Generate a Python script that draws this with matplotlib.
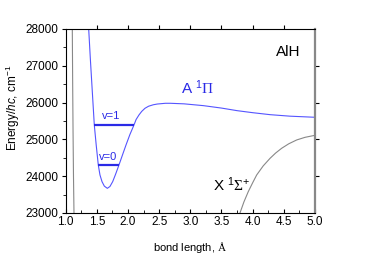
import matplotlib
matplotlib.use("Agg")
import matplotlib.pyplot as plt
from matplotlib.ticker import MultipleLocator

plt.rcParams['font.family'] = ['Liberation Sans', 'DejaVu Sans']
plt.rcParams['mathtext.fontset'] = 'custom'
plt.rcParams['mathtext.rm'] = 'Liberation Sans'
plt.rcParams['mathtext.it'] = 'Liberation Sans:italic'
plt.rcParams['mathtext.sf'] = 'Liberation Serif'  # used for the greek symbols and Å

# A 1Pi state (blue)
r_A = [1.369, 1.395, 1.427, 1.459, 1.49, 1.523, 1.55, 1.583, 1.62, 1.668,
       1.71, 1.754, 1.80, 1.855, 1.91, 1.968, 2.03, 2.096, 2.13, 2.176,
       2.22, 2.273, 2.33, 2.406, 2.47, 2.6, 2.68, 2.9, 3.21, 3.5,
       3.75, 4.0, 4.28, 4.6, 5.0]
E_A = [28000, 27204, 26296, 25391, 24840, 24304, 24033, 23851, 23730, 23670,
       23720, 23851, 24050, 24304, 24570, 24848, 25130, 25391, 25540, 25663,
       25760, 25845, 25900, 25940, 25960, 25980, 25980, 25965, 25916, 25850,
       25780, 25725, 25671, 25630, 25600]

# X 1Sigma+ state (gray), repulsive wall and outer part
r_X_wall = [1.106, 1.112, 1.118, 1.125, 1.133]
E_X_wall = [28000, 26500, 25200, 24000, 23000]
r_X = [3.797, 3.86, 3.93, 4.0, 4.065, 4.17, 4.28, 4.37, 4.466, 4.58,
       4.707, 4.84, 4.97, 5.0]
E_X = [23000, 23300, 23580, 23820, 24033, 24280, 24486, 24630, 24758, 24880,
       24984, 25055, 25100, 25110]

# vibrational levels of A state
v_labels = ['v=0', 'v=1']
v_E = [24304, 25391]
v_rmin = [1.523, 1.459]
v_rmax = [1.855, 2.096]
v_text_r = [1.687, 1.73]
v_text_E = [24508, 25636]

fig = plt.figure(figsize=(3.66, 2.56), dpi=100)
ax = fig.add_axes([0.1795, 0.168, 0.681, 0.719])

blue = '#5555ff'
dark_blue = '#2a2ae6'
ax.plot(r_A, E_A, color=blue, lw=0.8)
ax.plot(r_X_wall, E_X_wall, color='#888888', lw=0.8)
ax.plot(r_X, E_X, color='#888888', lw=0.8)
ax.hlines(v_E, v_rmin, v_rmax, color=dark_blue, lw=1.6)

for lab, tr, te in zip(v_labels, v_text_r, v_text_E):
    ax.text(tr, te, lab, color=dark_blue, fontsize=8, ha='center', va='center')
ax.text(2.85, 26397, r'A $^1\mathsf{\Pi}$', color=dark_blue, fontsize=11, va='center')
ax.text(3.365, 23761, r'X $^1\mathsf{\Sigma}^{+}$', color='black', fontsize=11, va='center')
ax.text(4.568, 27375, 'AlH', fontsize=11, ha='center', va='center')

ax.set_xlim(1.0, 5.0)
ax.set_ylim(23000, 28000)
ax.xaxis.set_major_locator(MultipleLocator(0.5))
ax.xaxis.set_minor_locator(MultipleLocator(0.25))
ax.yaxis.set_major_locator(MultipleLocator(1000))
ax.yaxis.set_minor_locator(MultipleLocator(500))
ax.xaxis.set_major_formatter(plt.FuncFormatter(lambda v, p: f'{v:.1f}'))

ax.tick_params(axis='x', which='both', direction='in', labelsize=8.5, pad=2)
ax.tick_params(axis='x', which='major', length=3)
ax.tick_params(axis='x', which='minor', length=2)
ax.tick_params(axis='y', which='both', direction='out', labelsize=8.5, pad=2)
ax.tick_params(axis='y', which='major', length=3)
ax.tick_params(axis='y', which='minor', length=2)

ax.spines['right'].set_color('#888888')
ax.spines['right'].set_linewidth(1.6)
for s in ['left', 'bottom', 'top']:
    ax.spines[s].set_linewidth(0.8)

# ticks on top and right sides
top = ax.secondary_xaxis('top')
top.set_xticks([1.5, 2.0, 2.5, 3.0, 3.5, 4.0, 4.5])
top.tick_params(direction='out', length=3, labeltop=False)
top.spines['top'].set_visible(False)
right = ax.secondary_yaxis('right')
right.set_yticks([24000, 25000, 26000, 27000])
right.tick_params(direction='out', length=3, labelright=False, color='black')
right.spines['right'].set_visible(False)

ax.set_xlabel(r'bond length, $\mathsf{\AA}$', fontsize=8, labelpad=9)
ax.set_ylabel(r'Energy/$hc$, cm$^{-1}$', fontsize=8.5)
ax.yaxis.set_label_coords(-0.175, 0.57)

fig.savefig('out.png', dpi=100)
